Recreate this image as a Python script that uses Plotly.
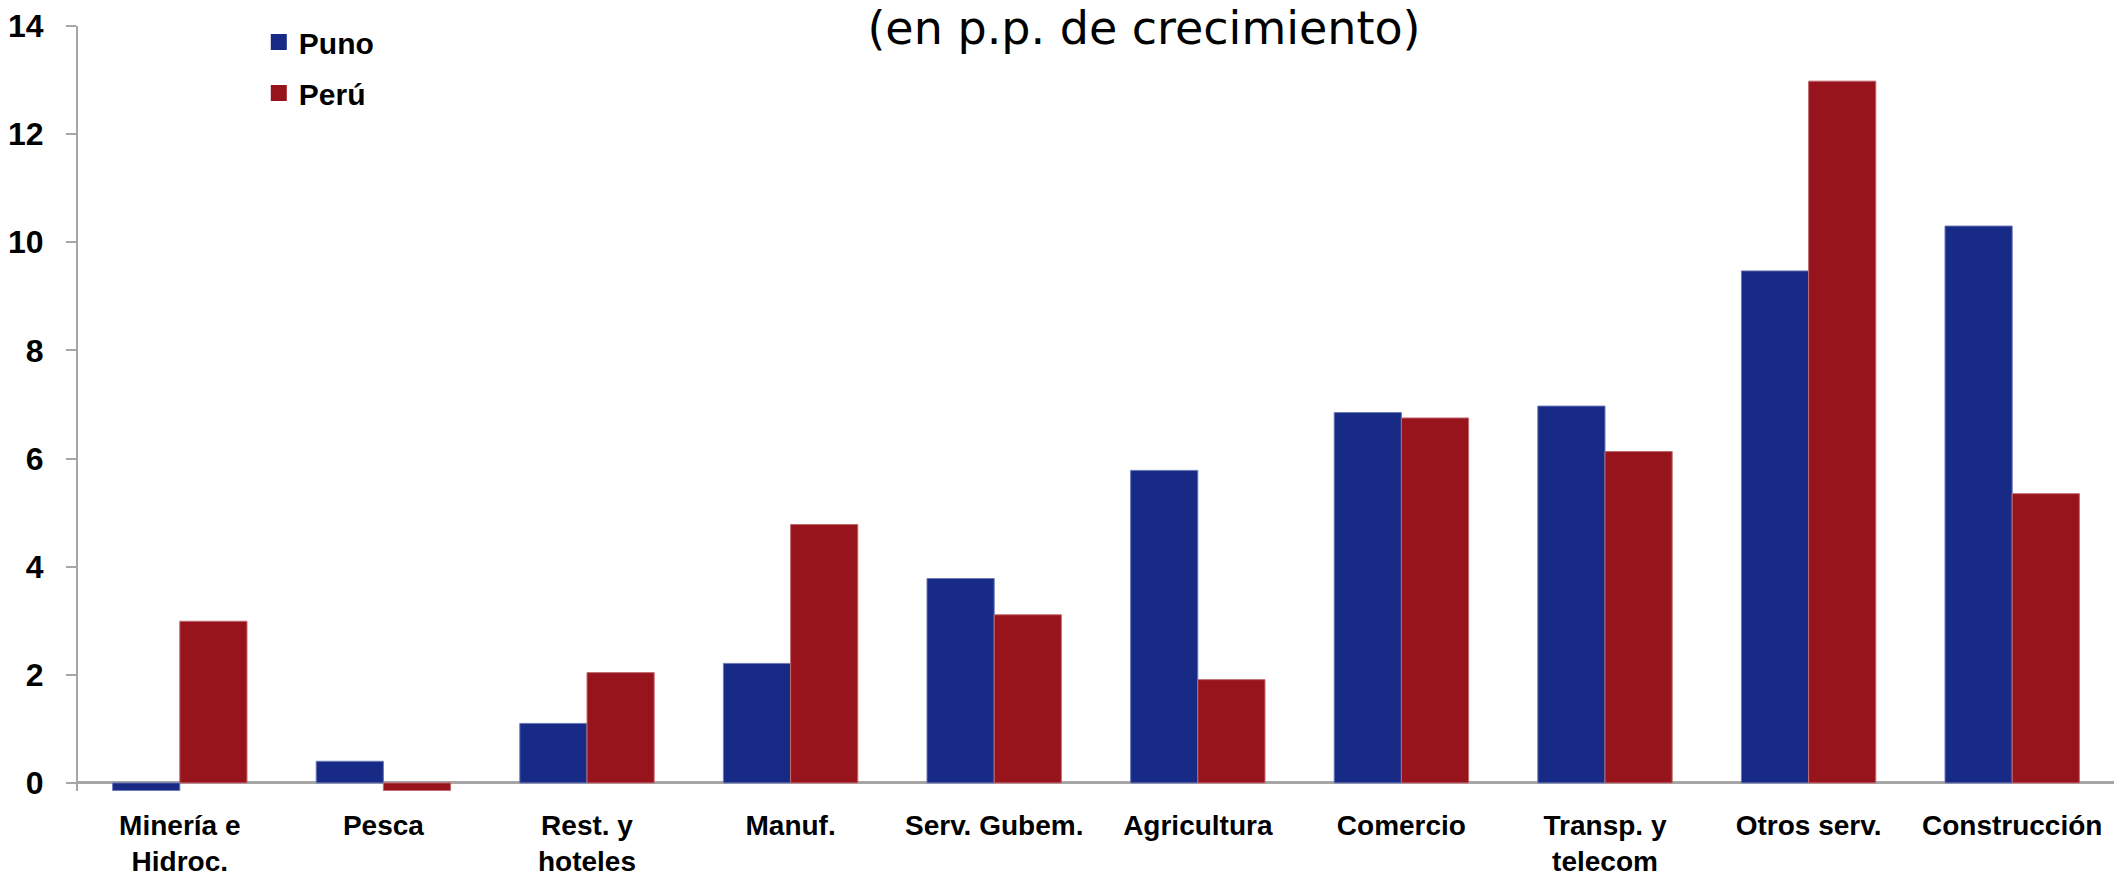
import plotly.graph_objects as go

categories = ["Minería e<br>Hidroc.", "Pesca", "Rest. y<br>hoteles", "Manuf.", "Serv. Gubem.",
              "Agricultura", "Comercio", "Transp. y<br>telecom", "Otros serv.", "Construcción"]
puno = [-0.14, 0.40, 1.10, 2.21, 3.78, 5.78, 6.85, 6.97, 9.47, 10.30]
peru = [2.99, -0.14, 2.04, 4.78, 3.11, 1.91, 6.75, 6.13, 12.98, 5.35]
series_names = ["Puno", "Perú"]
yticks = [0, 2, 4, 6, 8, 10, 12, 14]
title_text = "(en p.p. de crecimiento)"

PUNO_C = "#172A85"
PERU_C = "#98141C"
AXIS_C = "#A6A6A6"
FONT = "Liberation Sans, Arial, sans-serif"

W, H = 2114, 881

fig = go.Figure()
fig.add_trace(go.Bar(x=categories, y=puno, name=series_names[0], showlegend=False,
                     marker=dict(color=PUNO_C, line=dict(color="#6c78b8", width=1))))
fig.add_trace(go.Bar(x=categories, y=peru, name=series_names[1], showlegend=False,
                     marker=dict(color=PERU_C, line=dict(color="#c06a70", width=1))))
# legend entries (square swatches)
for nm, col, grp in [(series_names[0], PUNO_C, "a"), (series_names[1], PERU_C, "b")]:
    fig.add_trace(go.Scatter(x=[None], y=[None], mode="markers", name=nm, legendgroup=grp,
                             marker=dict(symbol="square", size=17, color=col), hoverinfo="skip"))

fig.update_layout(
    width=W, height=H,
    margin=dict(l=78, r=0, t=26, b=90, autoexpand=False),
    paper_bgcolor="white", plot_bgcolor="white",
    barmode="group", bargap=0.34, bargroupgap=0,
    title=dict(text=title_text, x=1144 / W, xanchor="center", xref="container",
               y=1 - 12 / H, yref="container", yanchor="top", pad=dict(t=0, b=0),
               font=dict(family="DejaVu Sans, sans-serif", size=46, color="black")),
    legend=dict(x=0.0888, y=1.0131, xanchor="left", yanchor="top", bgcolor="rgba(0,0,0,0)",
                font=dict(family=FONT, size=30, color="black", weight="bold"),
                tracegroupgap=9, traceorder="grouped", itemsizing="trace"),
    showlegend=True,
)
fig.update_xaxes(automargin=False, range=[-0.5, 9.5], showline=False, ticks="", showgrid=False,
                 zeroline=False,
                 tickfont=dict(family=FONT, size=28, color="black", weight="bold"),
                 ticklabelstandoff=15)
fig.update_yaxes(automargin=False, range=[-0.15, 14], tickvals=yticks,
                 ticktext=[str(v) for v in yticks],
                 showgrid=False, showline=True, linecolor=AXIS_C, linewidth=2,
                 ticks="outside", ticklen=10, tickcolor=AXIS_C, tickwidth=2,
                 zeroline=True, zerolinecolor=AXIS_C, zerolinewidth=3,
                 tickfont=dict(family=FONT, size=32, color="black", weight="bold"),
                 ticklabelstandoff=16)

# remove the browser's default 8px body margin so the figure sits at the page origin
fig.write_html("out.html", config={"displayModeBar": False},
               post_script="document.body.style.margin='0';document.body.style.overflow='hidden';")
